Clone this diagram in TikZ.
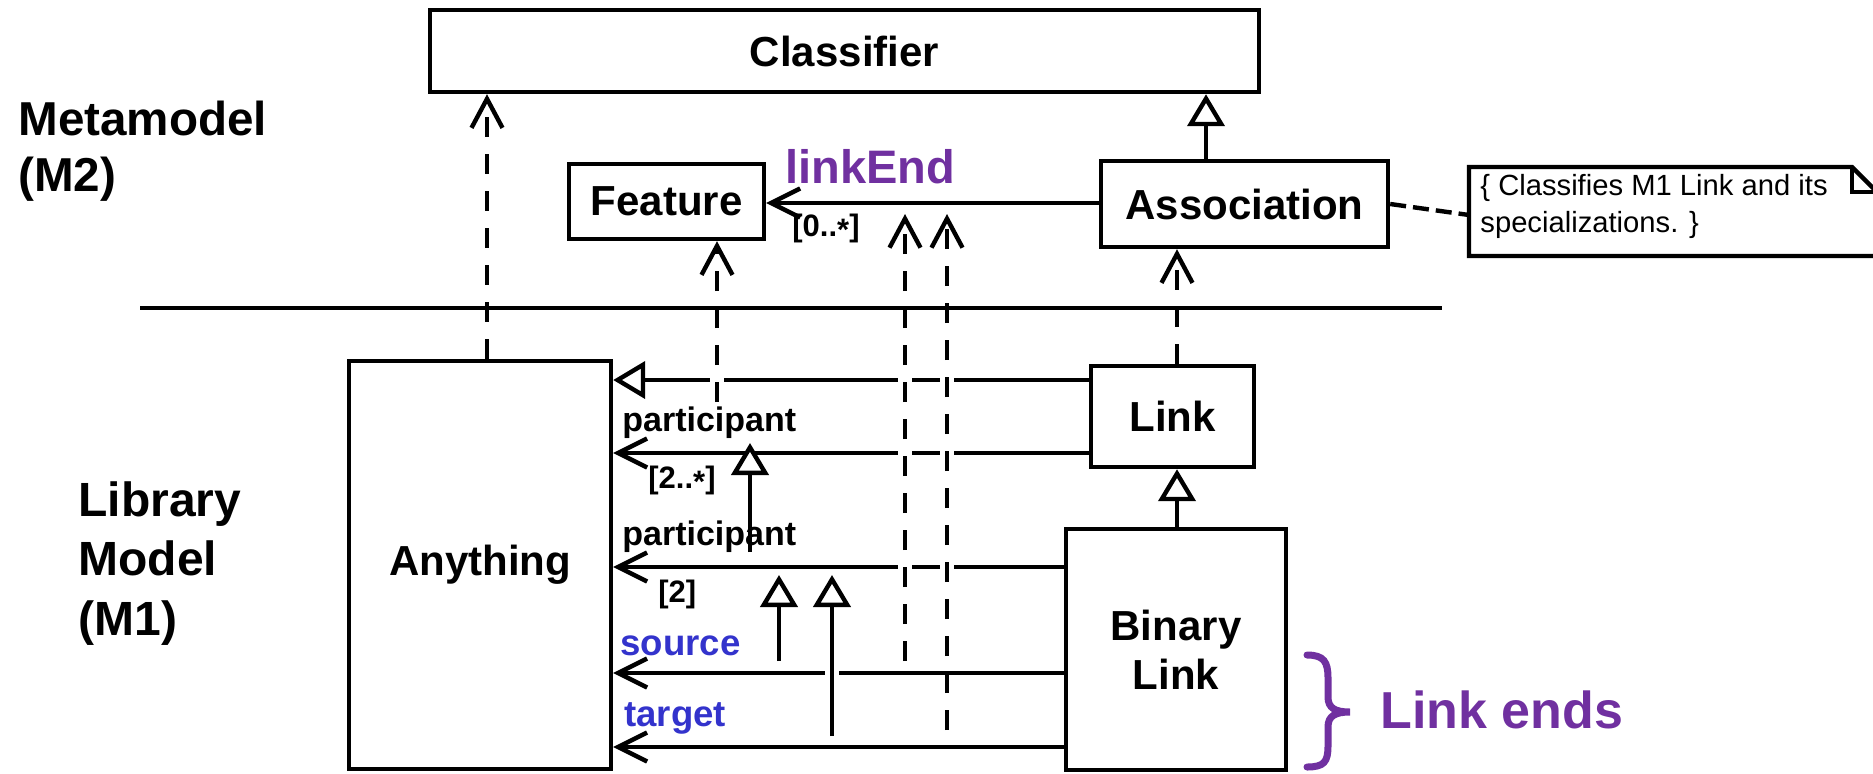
\documentclass[tikz,border=0pt]{standalone}
\usepackage{fontspec}
\setmainfont{Liberation Sans}
\usetikzlibrary{arrows.meta}
\definecolor{endpurple}{RGB}{112,48,160}
\definecolor{endblue}{RGB}{51,51,204}
% white break in a solid line where a dashed line crosses it
\newcommand\crossgap[2]{\fill[white] (#1-7,#2-5) rectangle (#1+7,#2+5);}
\begin{document}
\begin{tikzpicture}[x=0.5pt,y=-0.5pt,
  umlbox/.style={draw, line width=2.2pt, inner sep=0pt, align=center,
    font=\fontsize{21}{24.5}\selectfont\bfseries},
  plainline/.style={line width=2.2pt},
  assocarrow/.style={line width=2.2pt, -{Straight Barb[length=14.5pt,width=14.5pt]}},
  genarrow/.style={line width=2.2pt, -{Triangle[fill=white,length=16pt,width=18.5pt]}},
  deparrow/.style={line width=2.2pt, dash pattern=on 10pt off 8.5pt,
    -{Straight Barb[length=14.5pt,width=15.5pt]}},
  notelink/.style={line width=2.2pt, dash pattern=on 8pt off 3.5pt},
  rolelabel/.style={inner sep=0pt, anchor=base west, font=\fontsize{17}{20}\selectfont\bfseries},
  multlabel/.style={inner sep=0pt, anchor=west, font=\fontsize{15.5}{18}\selectfont\bfseries},
  endlabel/.style={inner sep=0pt, anchor=base west, text=endblue,
    font=\fontsize{18.3}{22}\selectfont\bfseries},
  levellabel/.style={inner sep=0pt, anchor=north west, align=left},
]
\useasboundingbox (0,0) rectangle (1873,773);
\clip (0,0) rectangle (1873,773);

% ---- level captions ----
\node[levellabel, font=\fontsize{23.8}{28}\selectfont\bfseries] (m2) at (18,101) {Metamodel\\(M2)};
\node[levellabel, font=\fontsize{24}{29.8}\selectfont\bfseries] (m1) at (78,481) {Library\\Model\\(M1)};

% ---- M2 classes ----
\node[umlbox, minimum width=414.5pt, minimum height=41pt] (classifier) at (844.5,51) {Classifier};
\node[umlbox, minimum width=97.5pt, minimum height=37.5pt] (feature) at (666.5,201.5) {Feature};
\node[umlbox, minimum width=143.5pt, minimum height=43pt] (association) at (1244.5,204) {Association};

% ---- comment note ----
\coordinate (noteNW) at (1469,167);
\coordinate (noteFold) at (1852,167);
\coordinate (noteFoldIn) at (1852,192);
\coordinate (noteE) at (1877,192);
\coordinate (noteSE) at (1877,256);
\coordinate (noteSW) at (1469,256);
\coordinate (noteW) at (1469,215);
\draw[plainline, line join=miter] (noteNW) -- (noteFold) -- (noteE) -- (noteSE) -- (noteSW) -- cycle;
\draw[plainline] (noteFold) -- (noteFoldIn) -- (noteE);
\node[inner sep=0pt, anchor=north west, align=left, font=\fontsize{14.6}{18.5}\selectfont] (notetext)
  at (1480,174) {\{ Classifies M1 Link and its\\specializations. \}};
\draw[notelink] (association.east) -- (noteW);

% ---- level separator ----
\coordinate (sepL) at (140,308);
\coordinate (sepR) at (1442,308);
\draw[plainline] (sepL) -- (sepR);

% ---- M1 classes ----
\node[umlbox, minimum width=131pt, minimum height=204pt] (anything) at (480,565) {Anything};
\node[umlbox, minimum width=81.5pt, minimum height=50.5pt] (link) at (1172.5,416.5) {Link};
\node[umlbox, minimum width=110pt, minimum height=120.5pt] (binlink) at (1176,649.5) {Binary\\Link};

% columns and rows used by the connectors
\coordinate (colA) at (487,0);
\coordinate (colC) at (1206,0);
\coordinate (colL) at (1177,0);
\coordinate (rowLE) at (0,203);
\coordinate (rowGen) at (0,380);
\coordinate (rowP1) at (0,453);
\coordinate (rowP2) at (0,567);
\coordinate (rowSrc) at (0,673);
\coordinate (rowTgt) at (0,747);

% ---- M2 relationships ----
\draw[genarrow] (association.north -| colC) -- (classifier.south -| colC);
\draw[assocarrow] (association.west |- rowLE) -- (feature.east |- rowLE);
\node[inner sep=0pt, anchor=base west, text=endpurple, font=\fontsize{23.5}{28}\selectfont\bfseries]
  (linkEndLbl) at (785,183) {linkEnd};
\node[multlabel] (leMult) at (792,228) {[0..\raisebox{-0.25ex}{*}]};

% ---- M1 relationships ----
\draw[genarrow] (link.west |- rowGen) -- (anything.east |- rowGen);
\draw[assocarrow] (link.west |- rowP1) -- (anything.east |- rowP1);
\draw[assocarrow] (binlink.west |- rowP2) -- (anything.east |- rowP2);
\draw[assocarrow] (binlink.west |- rowSrc) -- (anything.east |- rowSrc);
\draw[assocarrow] (binlink.west |- rowTgt) -- (anything.east |- rowTgt);
\draw[genarrow] (binlink.north -| colL) -- (link.south -| colL);

\node[rolelabel] (p1Lbl) at (622,431) {participant};
\node[multlabel] (p1Mult) at (648,480) {[2..\raisebox{-0.25ex}{*}]};
\node[rolelabel] (p2Lbl) at (622,545) {participant};
\node[multlabel] (p2Mult) at (658,594) {[2]};
\node[endlabel] (srcLbl) at (620,655) {source};
\node[endlabel] (tgtLbl) at (624,726) {target};

% breaks where the dashed and solid verticals pass
\crossgap{717}{380}
\crossgap{905}{380}
\crossgap{947}{380}
\crossgap{905}{453}
\crossgap{947}{453}
\crossgap{905}{567}
\crossgap{947}{567}
\crossgap{832}{673}

% redefinition of ends
\coordinate (p2Gen) at (750,552);
\coordinate (p1Gen) at (750,443);
\coordinate (srcGen) at (779,661);
\coordinate (tgtGen) at (832,736);
\coordinate (p2GenTip) at (779,575);
\coordinate (p2GenTipB) at (832,575);
\draw[genarrow] (p2Gen) -- (p1Gen);
\draw[genarrow] (srcGen) -- (p2GenTip);
\draw[genarrow] (tgtGen) -- (p2GenTipB);

% ---- instance-of dependencies ----
\draw[deparrow] (anything.north -| colA) -- (classifier.south -| colA);
\draw[deparrow] (link.north -| colL) -- (association.south -| colL);
\coordinate (p1Feat) at (717,402);
\draw[deparrow] (p1Feat) -- (feature.south -| p1Feat);
\coordinate (srcEnd) at (905,661);
\coordinate (srcEndTip) at (905,214);
\coordinate (tgtEnd) at (947,730);
\coordinate (tgtEndTip) at (947,214);
\draw[deparrow] (srcEnd) -- (srcEndTip);
\draw[deparrow] (tgtEnd) -- (tgtEndTip);

% ---- link ends brace ----
\draw[endpurple, line width=3.5pt, line cap=round]
  (1307,655) .. controls (1324,655) and (1328,662) .. (1328,678)
  -- (1328,697) .. controls (1328,708) and (1335,712) .. (1350,712)
  .. controls (1335,712) and (1328,716) .. (1328,727)
  -- (1328,746) .. controls (1328,762) and (1324,767) .. (1307,767);
\node[inner sep=0pt, anchor=base west, text=endpurple, font=\fontsize{26}{30}\selectfont\bfseries]
  (endsLbl) at (1380,728) {Link ends};
\end{tikzpicture}
\end{document}
